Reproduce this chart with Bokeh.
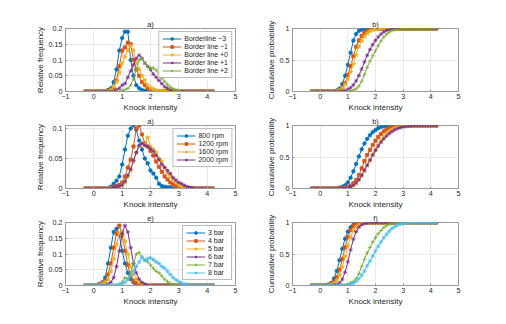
import numpy as np
from bokeh.plotting import figure
from bokeh.layouts import gridplot, column
from bokeh.models import Legend, LegendItem, Range1d, FixedTicker, Spacer, PrintfTickFormatter
from bokeh.embed import file_html
from bokeh.resources import INLINE

# Knock intensity bin centres
KI = [-0.3, -0.2, -0.1, 0.0, 0.1, 0.2, 0.3, 0.4,
      0.5, 0.6, 0.7, 0.8, 0.9, 1.0, 1.1, 1.2, 1.3, 1.4,
      1.5, 1.6, 1.7, 1.8, 1.9, 2.0, 2.1, 2.2, 2.3, 2.4,
      2.5, 2.6, 2.7, 2.8, 2.9, 3.0, 3.1, 3.2, 3.3, 3.4,
      3.5, 3.6, 3.7, 3.8, 3.9, 4.0, 4.1, 4.2]

# --- Row 1: border line spark timing ---
BL_LABELS = ["Borderline \u22123", "Border line \u22121", "Border line +0", "Border line +1", "Border line +2"]
BL_M3 = [0, 0, 0, 0, 0, 0, 0, 0,
         .005, .01, .03, .07, .13, .17, .19, .19, .10, .05,
         .02, .01, .005, .002, 0, 0, 0, 0, 0, 0,
         0, 0, 0, 0, 0, 0, 0, 0, 0, 0,
         0, 0, 0, 0, 0, 0, 0, 0]
BL_M1 = [0, 0, 0, 0, 0, 0, 0, 0,
         0, .005, .01, .035, .08, .13, .14, .155, .15, .10,
         .07, .05, .03, .02, .01, .005, .002, 0, 0, 0,
         0, 0, 0, 0, 0, 0, 0, 0, 0, 0,
         0, 0, 0, 0, 0, 0, 0, 0]
BL_P0 = [0, 0, 0, 0, 0, 0, 0, 0,
         0, .005, .015, .03, .06, .09, .11, .13, .145, .13,
         .09, .07, .05, .035, .02, .012, .008, .004, 0, 0,
         0, 0, 0, 0, 0, 0, 0, 0, 0, 0,
         0, 0, 0, 0, 0, 0, 0, 0]
BL_P1 = [0, 0, 0, 0, 0, 0, 0, 0,
         0, 0, 0, .005, .01, .02, .025, .045, .065, .085,
         .105, .115, .105, .09, .08, .07, .055, .045, .035, .025,
         .015, .01, .005, 0, 0, 0, 0, 0, 0, 0,
         0, 0, 0, 0, 0, 0, 0, 0]
BL_P2 = [0, 0, 0, 0, 0, 0, 0, 0,
         0, 0, 0, 0, 0, .003, .006, .01, .02, .04,
         .07, .10, .105, .09, .078, .075, .075, .068, .055, .042,
         .032, .022, .014, .009, .005, .002, 0, 0, 0, 0,
         0, 0, 0, 0, 0, 0, 0, 0]

# --- Row 2: engine speed ---
RPM_LABELS = ["800 rpm", "1200 rpm", "1600 rpm", "2000 rpm"]
RPM800 = [0, 0, 0, 0, 0, 0, 0, 0,
          0, .003, .008, .013, .02, .04, .065, .088, .10, .105,
          .098, .08, .065, .05, .042, .03, .025, .018, .008, .004,
          .003, .002, .002, 0, 0, 0, 0, 0, 0, 0,
          0, 0, 0, 0, 0, 0, 0, 0]
RPM1200 = [0, 0, 0, 0, 0, 0, 0, 0,
           0, 0, .002, .004, .006, .01, .02, .035, .048, .07,
           .10, .105, .09, .075, .07, .063, .055, .045, .036, .028,
           .02, .015, .01, .007, .004, .002, 0, 0, 0, 0,
           0, 0, 0, 0, 0, 0, 0, 0]
RPM1600 = [0, 0, 0, 0, 0, 0, 0, 0,
           0, 0, 0, .002, .003, .006, .01, .02, .03, .045,
           .06, .07, .075, .072, .085, .07, .065, .06, .05, .045,
           .035, .025, .02, .015, .01, .006, .004, .002, 0, 0,
           0, 0, 0, 0, 0, 0, 0, 0]
RPM2000 = [0, 0, 0, 0, 0, 0, 0, 0,
           0, 0, .002, .003, .004, .006, .012, .022, .032, .047,
           .06, .072, .075, .072, .07, .066, .062, .055, .048, .04,
           .035, .03, .025, .018, .014, .01, .008, .005, .003, .002,
           .001, 0, 0, 0, 0, 0, 0, 0]

# --- Row 3: boost pressure ---
BAR_LABELS = ["3 bar", "4 bar", "5 bar", "6 bar", "7 bar", "8 bar"]
BAR3 = [0, 0, 0, 0, 0, .005, .01, .025,
        .07, .12, .17, .18, .16, .11, .07, .04, .02, .01,
        .005, 0, 0, 0, 0, 0, 0, 0, 0, 0,
        0, 0, 0, 0, 0, 0, 0, 0, 0, 0,
        0, 0, 0, 0, 0, 0, 0, 0]
BAR4 = [0, 0, 0, 0, 0, .003, .007, .015,
        .035, .07, .12, .165, .19, .16, .11, .065, .03, .015,
        .008, .004, 0, 0, 0, 0, 0, 0, 0, 0,
        0, 0, 0, 0, 0, 0, 0, 0, 0, 0,
        0, 0, 0, 0, 0, 0, 0, 0]
BAR5 = [0, 0, 0, 0, 0, 0, .005, .01,
        .02, .045, .085, .13, .165, .17, .14, .10, .06, .035,
        .02, .01, .005, 0, 0, 0, 0, 0, 0, 0,
        0, 0, 0, 0, 0, 0, 0, 0, 0, 0,
        0, 0, 0, 0, 0, 0, 0, 0]
BAR6 = [0, 0, 0, 0, 0, 0, 0, 0,
        .005, .01, .025, .06, .11, .165, .19, .17, .12, .07,
        .04, .02, .01, .005, 0, 0, 0, 0, 0, 0,
        0, 0, 0, 0, 0, 0, 0, 0, 0, 0,
        0, 0, 0, 0, 0, 0, 0, 0]
BAR7 = [0, 0, 0, 0, 0, 0, 0, 0,
        0, 0, 0, 0, .003, .01, .025, .02, .04, .07,
        .10, .105, .09, .08, .075, .065, .055, .045, .04, .03,
        .02, .012, .006, .004, .002, 0, 0, 0, 0, 0,
        0, 0, 0, 0, 0, 0, 0, 0]
BAR8 = [0, 0, 0, 0, 0, 0, 0, 0,
        0, 0, 0, .002, .003, .006, .01, .02, .03, .045,
        .06, .075, .09, .08, .085, .088, .082, .075, .07, .06,
        .055, .045, .035, .025, .018, .012, .008, .004, .002, 0,
        0, 0, 0, 0, 0, 0, 0, 0]

X_TICKS = [-1, 0, 1, 2, 3, 4, 5]
XLABEL = "Knock intensity"
COLORS = ["#0072BD", "#D95319", "#EDB120", "#7E2F8E", "#77AC30", "#4DBEEE"]
MARKERS = ["circle", "square", "star", "asterisk", "cross", "asterisk"]
MSIZE = [3.5, 3.2, 4.5, 4, 4, 4.5]

FONT = "Liberation Sans"
TXT = "#262626"
AX = "#9a9a9a"


def style(p, title, ylabel, yticks):
    p.title.text = title
    p.title.align = "center"
    p.title.text_font = FONT
    p.title.text_font_size = "7.5px"
    p.title.text_font_style = "normal"
    p.title.text_color = TXT
    p.title.text_line_height = 1.0
    p.title.standoff = 0
    p.xaxis.ticker = FixedTicker(ticks=X_TICKS)
    p.xaxis.major_label_overrides = {-1: "\u22121"}
    p.yaxis.ticker = FixedTicker(ticks=yticks)
    p.yaxis.formatter = PrintfTickFormatter(format="%g")
    p.xaxis.axis_label = XLABEL
    p.yaxis.axis_label = ylabel
    for ax in (p.xaxis[0], p.yaxis[0]):
        ax.axis_label_text_font = FONT
        ax.axis_label_text_font_size = "8px"
        ax.axis_label_text_font_style = "normal"
        ax.axis_label_text_color = TXT
        ax.axis_label_text_line_height = 1.0
        ax.axis_label_standoff = 1
        ax.major_label_text_font = FONT
        ax.major_label_text_font_size = "7.2px"
        ax.major_label_text_color = TXT
        ax.major_label_text_line_height = 1.0
        ax.axis_line_color = AX
        ax.major_tick_line_color = AX
        ax.major_tick_in = 2
        ax.major_tick_out = 0
        ax.minor_tick_line_color = None
    p.xaxis.major_label_standoff = 2
    p.xaxis.axis_label_standoff = 1
    p.yaxis.major_label_standoff = 3
    p.grid.grid_line_color = "#e9e9e9"
    p.outline_line_color = AX
    p.outline_line_alpha = 1
    p.background_fill_color = "white"
    p.border_fill_color = "white"


def make_pair(title_l, title_r, series, labels, ymax, yticks):
    pl = figure(width=263, height=97, x_range=Range1d(-1, 5), y_range=Range1d(0, ymax),
                output_backend="svg", toolbar_location=None,
                min_border_left=65, min_border_right=28, min_border_top=10, min_border_bottom=23)
    pr = figure(width=205, height=97, x_range=Range1d(-1, 5), y_range=Range1d(0, 1),
                output_backend="svg", toolbar_location=None,
                min_border_left=25, min_border_right=10, min_border_top=10, min_border_bottom=23)
    style(pl, title_l, "Relative frequency", yticks)
    style(pr, title_r, "Cumulative probability", [0, 0.5, 1])
    items = []
    for i, (ys, lab) in enumerate(zip(series, labels)):
        y = np.array(ys, dtype=float)
        cdf = np.cumsum(y) / y.sum()
        c = COLORS[i]
        ln = pl.line(KI, y, line_color=c, line_width=1)
        sc = pl.scatter(KI, y, marker=MARKERS[i], size=MSIZE[i], line_color=c, fill_color=c, line_width=0.8)
        pr.line(KI, cdf, line_color=c, line_width=1)
        pr.scatter(KI, cdf, marker=MARKERS[i], size=MSIZE[i], line_color=c, fill_color=c, line_width=0.8)
        items.append(LegendItem(label=lab, renderers=[ln, sc]))
    leg = Legend(items=items, location="top_right")
    leg.label_text_font = FONT
    leg.label_text_font_size = "7px"
    leg.label_text_color = TXT
    leg.label_text_line_height = 1.0
    leg.label_height = 7
    leg.glyph_height = 7
    leg.glyph_width = 19
    leg.spacing = 1
    leg.padding = 3
    leg.margin = 3
    leg.label_standoff = 3
    leg.border_line_color = "#7a7a7a"
    leg.background_fill_alpha = 1
    pl.add_layout(leg)
    return pl, pr


l1, r1 = make_pair("a)", "b)", [BL_M3, BL_M1, BL_P0, BL_P1, BL_P2], BL_LABELS, 0.2, [0, 0.05, 0.1, 0.15, 0.2])
l2, r2 = make_pair("a)", "b)", [RPM800, RPM1200, RPM1600, RPM2000], RPM_LABELS, 0.105, [0, 0.05, 0.1])
l3, r3 = make_pair("e)", "f)", [BAR3, BAR4, BAR5, BAR6, BAR7, BAR8], BAR_LABELS, 0.2, [0, 0.05, 0.1, 0.15, 0.2])

grid = gridplot([[l1, r1], [l2, r2], [l3, r3]], toolbar_location=None)
page = column(Spacer(height=17, width=10), grid)

open("out.html", "w").write(file_html(page, INLINE))
